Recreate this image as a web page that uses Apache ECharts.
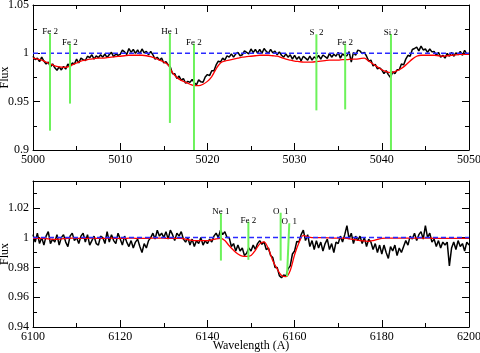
<!DOCTYPE html>
<html>
<head>
<meta charset="utf-8">
<script src="https://cdn.jsdelivr.net/npm/echarts@6/dist/echarts.min.js"></script>
<style>
  html, body { margin: 0; padding: 0; background: #fff; }
  #main { width: 480px; height: 353px; }
</style>
</head>
<body>
<div id="main"></div>
<script>
// top panel: 5000-5050 A, observed spectrum every 0.25 A, model every 0.5 A
const topObsStart = 5000, topObsStep = 0.25;
const topObsFlux = [
  0.997,0.9935,0.995,0.9915,0.996,0.992,0.989,0.991,
  0.986,0.989,0.985,0.9825,0.986,0.9828,0.9865,0.9837,
  0.989,0.986,0.990,0.989,0.994,0.990,0.995,0.9935,
  0.9925,0.997,0.9955,0.9985,0.994,0.9973,0.9955,0.9985,
  0.996,0.9993,0.9955,0.9988,1.001,0.9963,0.9995,0.9978,
  0.999,1.0033,1.0015,0.9988,1.005,1.001,1.004,1.000,
  1.0035,0.9995,1.0045,1.0005,1.002,0.9985,1.002,0.9985,
  0.994,0.996,0.993,0.995,0.990,0.9915,0.988,0.986,
  0.979,0.979,0.974,0.9765,0.972,0.974,0.969,0.971,
  0.970,0.973,0.9695,0.9675,0.9725,0.9705,0.970,0.9755,
  0.978,0.977,0.982,0.982,0.988,0.992,0.991,0.995,
  0.993,0.9975,0.996,0.9995,0.996,0.9995,1.001,0.9975,
  0.9985,1.0025,1.001,0.9995,1.0045,1.0008,1.004,1.0003,
  1.004,1.000,1.005,1.002,1.000,1.004,1.0005,1.0023,
  0.9985,1.0015,0.998,0.996,0.9995,0.996,0.9985,0.994,
  0.998,0.9938,0.9965,0.9923,0.997,0.995,0.993,0.997,
  0.993,0.9963,0.9945,0.9978,0.994,0.9983,0.9965,0.9948,
  1.000,0.996,0.999,0.997,1.001,0.995,0.9995,0.9975,
  0.9975,1.0018,0.991,1.001,0.998,1.0033,1.0025,0.9998,
  1.001,0.997,0.992,0.993,0.987,0.9885,0.984,0.985,
  0.983,0.979,0.982,0.978,0.975,0.981,0.979,0.983,
  0.983,0.989,0.988,0.994,0.998,0.997,1.004,1.005,
  1.0065,1.0025,1.0075,1.0035,1.0045,1.001,1.0045,1.0015,
  1.002,0.998,1.001,0.996,0.998,0.995,1.000,0.997,
  1.001,0.997,1.0005,0.9985,1.002,0.998,1.003,0.999,
  1.000
];
const topModelStart = 5000, topModelStep = 0.5;
const topModelFlux = [
  0.995,0.994,0.993,0.991,0.989,0.987,0.986,0.9855,0.986,0.988,
  0.990,0.992,0.993,0.994,0.9945,0.995,0.995,0.9955,0.996,0.9965,
  0.997,0.9975,0.998,0.998,0.998,0.998,0.9975,0.9965,0.995,0.993,
  0.991,0.988,0.980,0.975,0.972,0.970,0.968,0.9665,0.9665,0.968,
  0.971,0.976,0.984,0.990,0.992,0.993,0.994,0.995,0.996,0.9965,
  0.997,0.9975,0.998,0.998,0.998,0.9975,0.997,0.9955,0.994,0.993,
  0.992,0.9915,0.991,0.991,0.991,0.9915,0.992,0.9925,0.993,0.993,
  0.993,0.9935,0.9935,0.994,0.994,0.9945,0.995,0.992,0.989,0.986,
  0.983,0.981,0.980,0.981,0.983,0.986,0.990,0.994,0.997,0.998,
  0.998,0.998,0.998,0.9975,0.997,0.9975,0.998,0.9985,0.999,0.999,
  0.999
];
// line identifications (top panel)
const topLineNames = ['Fe 2','Fe 2','He 1','Fe 2','S  2','Fe 2','Si 2'];
const topLineWave  = [5001.95,5004.24,5015.7,5018.46,5032.5,5035.8,5041.05];
const topLineHi    = [1.0207,1.010,1.0207,1.010,1.0197,1.010,1.020];
const topLineLo    = [0.920,0.948,0.928,0.900,0.941,0.942,0.900];

// bottom panel: 6100-6200 A, observed every 0.5 A, model every 1 A
const botObsStart = 6100, botObsStep = 0.5;
const botObsFlux = [
  1.002,0.997,1.003,0.996,1.000,0.995,1.001,1.004,0.996,0.999,
  0.997,1.002,0.995,1.000,1.002,0.997,0.994,1.001,1.003,0.998,
  1.000,0.996,1.001,1.003,0.997,1.002,0.995,0.998,1.001,0.996,
  0.995,1.001,1.000,0.996,1.004,0.997,1.002,0.998,0.996,1.003,
  0.999,0.995,1.001,0.997,0.994,0.998,0.993,0.997,0.999,0.994,
  0.990,0.996,0.993,0.998,1.000,1.003,0.999,1.005,1.001,1.003,
  1.000,1.004,0.999,1.005,1.002,0.998,1.003,1.001,1.004,0.999,
  0.997,1.000,0.995,0.999,0.994,0.998,0.996,1.000,0.995,0.998,
  0.996,0.999,0.997,1.001,1.003,1.000,1.005,1.002,1.004,1.000,
  1.000,0.994,0.996,0.991,0.995,0.991,0.993,0.988,0.9895,0.993,
  0.991,0.995,0.992,0.996,0.998,0.9955,0.997,0.992,0.993,0.988,
  0.9866,0.980,0.980,0.9745,0.973,0.975,0.974,0.979,0.981,0.989,
  0.991,0.9975,0.997,1.002,1.005,0.998,1.002,0.994,0.998,0.992,
  0.998,0.993,0.997,0.991,0.996,0.999,0.992,0.996,0.990,0.997,
  0.996,1.001,0.997,1.002,1.008,0.999,1.003,0.996,1.001,0.998,
  1.001,0.996,1.000,0.994,0.999,0.997,0.992,0.996,0.990,0.995,
  0.989,0.995,0.990,0.986,0.994,0.991,0.995,0.988,0.993,0.990,
  0.994,0.998,0.995,1.001,0.999,1.003,0.998,1.002,1.004,0.999,
  1.008,1.000,1.003,0.997,0.999,0.994,0.998,0.993,0.997,0.995,
  0.997,0.981,0.993,0.997,0.992,0.998,0.994,0.996,0.991,0.997,
  0.995
];
const botModelStart = 6100, botModelStep = 1;
const botModelFlux = [
  0.9995,0.9995,0.9995,0.9993,0.999,0.9988,0.999,0.9993,0.9995,0.9996,
  0.9996,0.9995,0.9995,0.9996,0.9996,0.9995,0.9995,0.9996,0.9996,0.9995,
  0.9995,0.9995,0.9996,0.9996,0.9995,0.9995,0.9995,0.9996,0.9996,0.9996,
  0.9996,0.9995,0.9995,0.9995,0.9995,0.999,0.9983,0.998,0.998,0.998,
  0.998,0.9985,0.9992,0.9995,0.998,0.9945,0.9915,0.989,0.9876,0.9874,
  0.988,0.9915,0.9958,0.9972,0.9925,0.9845,0.979,0.9745,0.9738,0.978,
  0.9885,0.9965,1.0015,1.0005,1.000,1.000,1.000,1.000,0.9998,0.9997,
  0.9996,0.9996,0.9995,0.999,0.9985,0.998,0.9978,0.9975,0.998,0.9988,
  0.9995,0.9996,0.9996,0.9996,0.9996,0.9996,0.9997,0.9997,0.9997,0.9997,
  0.9997,0.9996,0.9995,0.9995,0.9995,0.9995,0.9995,0.9995,0.9995,0.9995,
  0.9995
];
// line identifications (bottom panel), the second O 1 marker is slanted
const botLineNames  = ['Ne 1','Fe 2','O  1','O  1'];
const botLineWaveHi = [6143.1,6149.4,6156.8,6158.78];
const botLineWaveLo = [6143.1,6149.4,6156.8,6158.26];
const botLineHi     = [1.0163,1.0107,1.0167,1.0096];
const botLineLo     = [0.9846,0.9851,0.9846,0.9739];

const FONT = 'Liberation Serif';

function toPairs(start, step, arr){
    return arr.map((v,i)=>[start+i*step, v]);
}

function axisX(grid, pos, min, max, interval, showLabel){
    return {
        type:'value', gridIndex:grid, position:pos, min:min, max:max, interval:interval,
        axisLine:{show:true, onZero:false, lineStyle:{color:'#000', width:1}},
        axisTick:{show:true, inside:true, length:7, lineStyle:{color:'#000'}},
        minorTick:{show:true, splitNumber:2, length:4, lineStyle:{color:'#000'}},
        splitLine:{show:false},
        axisLabel:{show:showLabel, color:'#000', fontFamily:FONT, fontSize:12, margin:4,
            formatter:(v)=>String(v)},
        name: (showLabel && grid===1) ? 'Wavelength (A)' : '',
        nameLocation:'middle', nameGap:13, nameMoveOverlap:false,
        nameTextStyle:{color:'#000', fontFamily:FONT, fontSize:12, verticalAlign:'top'}
    };
}
function axisY(grid, pos, min, max, interval, showLabel){
    return {
        type:'value', gridIndex:grid, position:pos, min:min, max:max, interval:interval,
        axisLine:{show:true, onZero:false, lineStyle:{color:'#000', width:1}},
        axisTick:{show:true, inside:true, length:7, lineStyle:{color:'#000'}},
        minorTick:{show:true, splitNumber:2, length:4, lineStyle:{color:'#000'}},
        splitLine:{show:false},
        axisLabel:{show:showLabel, color:'#000', fontFamily:FONT, fontSize:12, margin:4, showMaxLabel: grid===0},
        name: showLabel ? 'Flux' : '',
        nameLocation:'middle', nameGap:22, nameRotate:90, nameMoveOverlap:false,
        nameTextStyle:{color:'#000', fontFamily:FONT, fontSize:12}
    };
}

function idLines(names, wHi, wLo, hi, lo, xi, yi){
    return names.map((n,i)=>({
        type:'line', xAxisIndex:xi, yAxisIndex:yi, silent:true,
        symbol:'circle', symbolSize:0, showSymbol:true,
        lineStyle:{color:'#6cf25a', width:2},
        itemStyle:{color:'#6cf25a'},
        label:{show:false},
        data:[
            {value:[wHi[i], hi[i]], label:{show:true, formatter:n, position:'top', distance:-3,
                color:'#000', fontFamily:FONT, fontSize:9}},
            [wLo[i], lo[i]]
        ],
        z:5
    }));
}

var chart = echarts.init(document.getElementById('main'));
var option = {
    animation:false,
    backgroundColor:'#fff',
    grid:[
        {left:33, top:5, width:436, height:145, containLabel:false, outerBoundsMode:'none'},
        {left:33, top:181, width:436, height:146, containLabel:false, outerBoundsMode:'none'}
    ],
    xAxis:[
        axisX(0,'bottom',5000,5050,10,true),
        axisX(0,'top',5000,5050,10,false),
        axisX(1,'bottom',6100,6200,20,true),
        axisX(1,'top',6100,6200,20,false)
    ],
    yAxis:[
        axisY(0,'left',0.9,1.05,0.05,true),
        axisY(0,'right',0.9,1.05,0.05,false),
        axisY(1,'left',0.94,1.038,0.02,true),
        axisY(1,'right',0.94,1.038,0.02,false)
    ],
    series:[
        {type:'line', xAxisIndex:0, yAxisIndex:0, showSymbol:false, silent:true,
         lineStyle:{color:'#000', width:1.5}, data:toPairs(topObsStart, topObsStep, topObsFlux)},
        {type:'line', xAxisIndex:0, yAxisIndex:0, showSymbol:false, silent:true, smooth:0.3,
         lineStyle:{color:'#ff0000', width:1.3}, data:toPairs(topModelStart, topModelStep, topModelFlux)},
        {type:'line', xAxisIndex:0, yAxisIndex:0, showSymbol:false, silent:true,
         lineStyle:{color:'#2a2aff', width:1.5, type:[5,3]}, data:[[5000,1],[5050,1]]},

        {type:'line', xAxisIndex:2, yAxisIndex:2, showSymbol:false, silent:true,
         lineStyle:{color:'#000', width:1.5}, data:toPairs(botObsStart, botObsStep, botObsFlux)},
        {type:'line', xAxisIndex:2, yAxisIndex:2, showSymbol:false, silent:true, smooth:0.3,
         lineStyle:{color:'#ff0000', width:1.3}, data:toPairs(botModelStart, botModelStep, botModelFlux)},
        {type:'line', xAxisIndex:2, yAxisIndex:2, showSymbol:false, silent:true,
         lineStyle:{color:'#2a2aff', width:1.5, type:[5,3]}, data:[[6100,1],[6200,1]]}
    ]
    .concat(idLines(topLineNames, topLineWave, topLineWave, topLineHi, topLineLo, 0, 0))
    .concat(idLines(botLineNames, botLineWaveHi, botLineWaveLo, botLineHi, botLineLo, 2, 2))
};
chart.setOption(option);
</script>
</body>
</html>
